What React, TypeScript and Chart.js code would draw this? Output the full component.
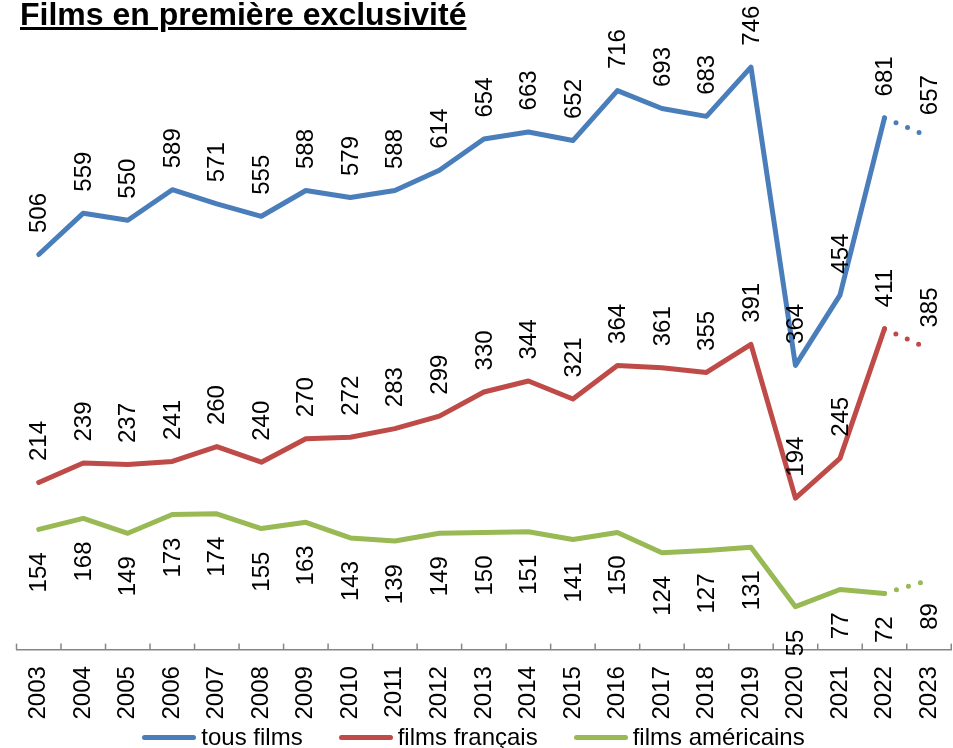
import React, { useEffect, useRef } from "react";
import { Chart, registerables } from "chart.js";

Chart.register(...registerables);

const TITLE = "Films en première exclusivité";
const years = ["2003","2004","2005","2006","2007","2008","2009","2010","2011","2012","2013","2014","2015","2016","2017","2018","2019","2020","2021","2022","2023"];
const seriesNames = ["tous films", "films français", "films américains"];
const tousFilms = [506,559,550,589,571,555,588,579,588,614,654,663,652,716,693,683,746,364,454,681,657];
const filmsFrancais = [214,239,237,241,260,240,270,272,283,299,330,344,321,364,361,355,391,194,245,411,385];
const filmsAmericains = [154,168,149,173,174,155,163,143,139,149,150,151,141,150,124,127,131,55,77,72,89];
const colors = ["#4A7EBB", "#BE4B48", "#98B954"];
const labelBelow = [false, false, true];

const FONT = '"Liberation Sans", Arial, sans-serif';

const valueLabels = {
  id: "valueLabels",
  afterDraw(chart: any) {
    const ctx = chart.ctx;
    chart.data.datasets.forEach((ds: any, di: number) => {
      const meta = chart.getDatasetMeta(di);
      const below = labelBelow[di];
      meta.data.forEach((pt: any, i: number) => {
        ctx.save();
        ctx.translate(pt.x + 1, pt.y + (below ? 23 : -21.5));
        ctx.rotate(-Math.PI / 2);
        ctx.font = "24px " + FONT;
        ctx.fillStyle = "#000";
        ctx.textAlign = below ? "right" : "left";
        ctx.textBaseline = "middle";
        ctx.fillText(String(ds.data[i]), 0, 0);
        ctx.restore();
      });
    });
  },
};

const innerTicks = {
  id: "innerTicks",
  afterDraw(chart: any) {
    const ctx = chart.ctx;
    const xs = chart.scales.x;
    const n = chart.data.labels.length;
    ctx.save();
    ctx.strokeStyle = "#868686";
    ctx.lineWidth = 1.5;
    for (let i = 0; i <= n; i++) {
      const x = xs.getPixelForValue(i - 0.5);
      ctx.beginPath();
      ctx.moveTo(x, xs.top);
      ctx.lineTo(x, xs.top - 6);
      ctx.stroke();
    }
    ctx.restore();
  },
};

const lastDotted = (ctx: any) =>
  ctx.p1DataIndex === years.length - 1 ? [0, 12.5, 0, 12.5, 0, 12.5, 0, 100] : undefined;

export default function App() {
  const ref = useRef<HTMLCanvasElement>(null);
  useEffect(() => {
    const data = [tousFilms, filmsFrancais, filmsAmericains];
    const chart = new Chart(ref.current!, {
      type: "line",
      data: {
        labels: years,
        datasets: data.map((d, i) => ({
          label: seriesNames[i],
          data: d,
          borderColor: colors[i],
          backgroundColor: colors[i],
          borderWidth: 5,
          borderCapStyle: "round",
          borderJoinStyle: "round",
          pointRadius: 0,
          tension: 0,
          segment: { borderDash: lastDotted },
        })),
      },
      options: {
        responsive: false,
        animation: false,
        devicePixelRatio: 1,
        layout: { padding: { left: 16.5, right: 0, top: 25, bottom: 28.5 } },
        plugins: { legend: { display: false }, tooltip: { enabled: false }, title: { display: false } },
        scales: {
          x: {
            offset: true,
            grid: { display: false, drawTicks: true, tickLength: 16.5 },
            border: { display: true, color: "#868686", width: 1.5 },
            ticks: {
              autoSkip: false,
              minRotation: 90,
              maxRotation: 90,
              padding: 0,
              color: "#000",
              font: { family: FONT, size: 24, lineHeight: 1 },
            },
          },
          y: { display: false, min: 0, max: 800 },
        },
      },
      plugins: [valueLabels, innerTicks],
    } as any);
    return () => chart.destroy();
  }, []);

  return (
    <div style={{ position: "fixed", left: 0, top: 0, width: 953, height: 748, background: "#fff", overflow: "hidden" }}>
      <canvas ref={ref} width={953} height={748} style={{ position: "absolute", left: 0, top: 0, width: 953, height: 748 }} />
      <div
        style={{
          position: "absolute",
          left: 20,
          top: -2,
          font: "bold 32px " + FONT,
          lineHeight: "32px",
          textDecoration: "underline",
          textDecorationThickness: "3px",
          color: "#000",
          whiteSpace: "nowrap",
        }}
      >
        {TITLE}
      </div>
      <div
        style={{
          position: "absolute",
          left: -3,
          width: 953,
          top: 725,
          height: 24,
          display: "flex",
          justifyContent: "center",
          alignItems: "center",
          gap: 36,
          font: "24px " + FONT,
          lineHeight: "24px",
          color: "#000",
        }}
      >
        {seriesNames.map((name, i) => (
          <div key={name} style={{ display: "flex", alignItems: "center", whiteSpace: "nowrap" }}>
            <div style={{ width: 54, height: 5, borderRadius: 3, background: colors[i], marginRight: 5 }} />
            <span>{name}</span>
          </div>
        ))}
      </div>
    </div>
  );
}
